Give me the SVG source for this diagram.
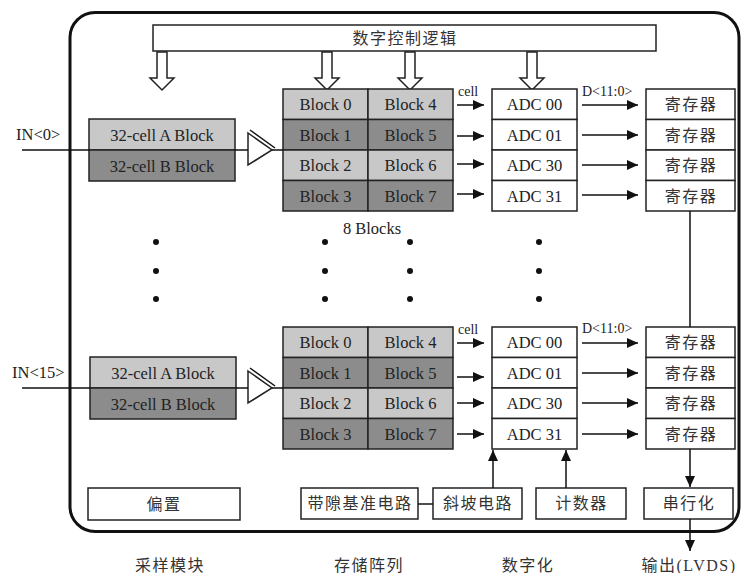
<svg xmlns="http://www.w3.org/2000/svg" width="743" height="573" viewBox="0 0 743 573">
<style>
.box{fill:#fff;stroke:#222;stroke-width:1.5}
.lt{fill:#c8c8c8;stroke:#222;stroke-width:1.5}
.dk{fill:#8c8c8c;stroke:#222;stroke-width:1.5}
.t{font-family:"Liberation Serif",serif;font-size:16.5px;fill:#222;text-anchor:middle}
.ts{font-family:"Liberation Serif",serif;font-size:14px;fill:#222}
.c{font-family:"Liberation Serif","Noto Sans CJK SC",sans-serif;font-size:16px;fill:#333;text-anchor:middle;letter-spacing:1.5px}
.ln{stroke:#111;stroke-width:1.5;fill:none}
.ar{stroke:#111;stroke-width:1.5;fill:none;marker-end:url(#ah)}
.hol{fill:#fff;stroke:#222;stroke-width:1.5}
.dot{fill:#111}
</style>
<defs>
<marker id="ah" markerUnits="userSpaceOnUse" markerWidth="11" markerHeight="10" refX="11" refY="5" orient="auto">
<path d="M0,0 L11,5 L0,10 z" fill="#111"/>
</marker>
</defs>
<rect id="frame" x="70" y="12.5" width="669" height="519" rx="25" fill="none" stroke="#111" stroke-width="3"/>
<g id="ctrl"><rect class="box" x="153" y="25" width="503" height="26"/><text class="c" x="405" y="43.5">数字控制逻辑</text></g>
<g id="hollow-arrows">
<path class="hol" d="M157,52 V78 H150 L162,90 L174,78 H167 V52 Z"/>
<path class="hol" d="M322,52 V78 H315 L327,90 L339,78 H332 V52 Z"/>
<path class="hol" d="M405,52 V78 H398 L410,90 L422,78 H415 V52 Z"/>
<path class="hol" d="M527,52 V78 H520 L532,90 L544,78 H537 V52 Z"/>
</g>
<g id="sample0">
<rect class="lt" x="89" y="119" width="146" height="31"/><text class="t" x="162" y="140.5">32-cell A Block</text>
<rect class="dk" x="89" y="150" width="146" height="31"/><text class="t" x="162" y="171.5">32-cell B Block</text>
</g>
<g id="sample15">
<rect class="lt" x="90" y="357" width="146" height="31"/><text class="t" x="163" y="378.5">32-cell A Block</text>
<rect class="dk" x="90" y="388" width="146" height="31"/><text class="t" x="163" y="409.5">32-cell B Block</text>
</g>
<g id="buf0"><polygon class="hol" points="248,133 272,150 248,165"/><line class="ln" x1="250" y1="130" x2="275" y2="148"/></g>
<g id="buf15"><polygon class="hol" points="248,371 272,388 248,403"/><line class="ln" x1="250" y1="368" x2="275" y2="386"/></g>
<g id="blocks0">
<rect class="lt" x="283" y="89" width="85" height="30.5"/><text class="t" x="325.5" y="110">Block 0</text>
<rect class="lt" x="368" y="89" width="85" height="30.5"/><text class="t" x="410.5" y="110">Block 4</text>
<rect class="dk" x="283" y="119.5" width="85" height="30.5"/><text class="t" x="325.5" y="140.5">Block 1</text>
<rect class="dk" x="368" y="119.5" width="85" height="30.5"/><text class="t" x="410.5" y="140.5">Block 5</text>
<rect class="lt" x="283" y="150" width="85" height="30.5"/><text class="t" x="325.5" y="171">Block 2</text>
<rect class="lt" x="368" y="150" width="85" height="30.5"/><text class="t" x="410.5" y="171">Block 6</text>
<rect class="dk" x="283" y="180.5" width="85" height="30.5"/><text class="t" x="325.5" y="201.5">Block 3</text>
<rect class="dk" x="368" y="180.5" width="85" height="30.5"/><text class="t" x="410.5" y="201.5">Block 7</text>
</g>
<g id="blocks15">
<rect class="lt" x="283" y="327" width="85" height="30.5"/><text class="t" x="325.5" y="348">Block 0</text>
<rect class="lt" x="368" y="327" width="85" height="30.5"/><text class="t" x="410.5" y="348">Block 4</text>
<rect class="dk" x="283" y="357.5" width="85" height="30.5"/><text class="t" x="325.5" y="378.5">Block 1</text>
<rect class="dk" x="368" y="357.5" width="85" height="30.5"/><text class="t" x="410.5" y="378.5">Block 5</text>
<rect class="lt" x="283" y="388" width="85" height="30.5"/><text class="t" x="325.5" y="409">Block 2</text>
<rect class="lt" x="368" y="388" width="85" height="30.5"/><text class="t" x="410.5" y="409">Block 6</text>
<rect class="dk" x="283" y="418.5" width="85" height="30.5"/><text class="t" x="325.5" y="439.5">Block 3</text>
<rect class="dk" x="368" y="418.5" width="85" height="30.5"/><text class="t" x="410.5" y="439.5">Block 7</text>
</g>
<g id="adc0">
<rect class="box" x="492" y="89" width="85" height="30.5"/><text class="t" x="534.5" y="110">ADC 00</text>
<rect class="box" x="492" y="119.5" width="85" height="30.5"/><text class="t" x="534.5" y="140.5">ADC 01</text>
<rect class="box" x="492" y="150" width="85" height="30.5"/><text class="t" x="534.5" y="171">ADC 30</text>
<rect class="box" x="492" y="180.5" width="85" height="30.5"/><text class="t" x="534.5" y="201.5">ADC 31</text>
</g>
<g id="adc15">
<rect class="box" x="492" y="327" width="85" height="30.5"/><text class="t" x="534.5" y="348">ADC 00</text>
<rect class="box" x="492" y="357.5" width="85" height="30.5"/><text class="t" x="534.5" y="378.5">ADC 01</text>
<rect class="box" x="492" y="388" width="85" height="30.5"/><text class="t" x="534.5" y="409">ADC 30</text>
<rect class="box" x="492" y="418.5" width="85" height="30.5"/><text class="t" x="534.5" y="439.5">ADC 31</text>
</g>
<g id="reg0">
<rect class="box" x="646" y="89" width="89" height="30.5"/><text class="c" x="691" y="110">寄存器</text>
<rect class="box" x="646" y="119.5" width="89" height="30.5"/><text class="c" x="691" y="140.5">寄存器</text>
<rect class="box" x="646" y="150" width="89" height="30.5"/><text class="c" x="691" y="171">寄存器</text>
<rect class="box" x="646" y="180.5" width="89" height="30.5"/><text class="c" x="691" y="201.5">寄存器</text>
</g>
<g id="reg15">
<rect class="box" x="646" y="327" width="89" height="30.5"/><text class="c" x="691" y="348">寄存器</text>
<rect class="box" x="646" y="357.5" width="89" height="30.5"/><text class="c" x="691" y="378.5">寄存器</text>
<rect class="box" x="646" y="388" width="89" height="30.5"/><text class="c" x="691" y="409">寄存器</text>
<rect class="box" x="646" y="418.5" width="89" height="30.5"/><text class="c" x="691" y="439.5">寄存器</text>
</g>
<g id="bias"><rect class="box" x="88" y="488" width="152" height="32"/><text class="c" x="164" y="509.5">偏置</text></g>
<g id="bandgap"><rect class="box" x="301" y="488" width="117" height="31"/><text class="c" x="360" y="509">带隙基准电路</text></g>
<g id="ramp"><rect class="box" x="433" y="488" width="89" height="31"/><text class="c" x="478" y="509">斜坡电路</text></g>
<g id="counter"><rect class="box" x="536" y="488" width="90" height="31"/><text class="c" x="581.5" y="509">计数器</text></g>
<g id="serial"><rect class="box" x="644" y="488" width="89" height="31"/><text class="c" x="689" y="509">串行化</text></g>
<g id="connectors">
<line class="ln" x1="22" y1="150" x2="89" y2="150"/>
<line class="ln" x1="235" y1="150" x2="248" y2="150"/>
<line class="ln" x1="272" y1="150" x2="283" y2="150"/>
<line class="ln" x1="22" y1="388" x2="90" y2="388"/>
<line class="ln" x1="236" y1="388" x2="248" y2="388"/>
<line class="ln" x1="272" y1="388" x2="283" y2="388"/>
<line class="ar" x1="457" y1="105" x2="484" y2="105"/>
<line class="ar" x1="457" y1="136" x2="484" y2="136"/>
<line class="ar" x1="457" y1="164" x2="484" y2="164"/>
<line class="ar" x1="457" y1="194" x2="484" y2="194"/>
<line class="ar" x1="457" y1="343" x2="484" y2="343"/>
<line class="ar" x1="457" y1="377" x2="484" y2="377"/>
<line class="ar" x1="457" y1="403" x2="484" y2="403"/>
<line class="ar" x1="457" y1="434" x2="484" y2="434"/>
<line class="ar" x1="582" y1="105" x2="638" y2="105"/>
<line class="ar" x1="582" y1="135" x2="638" y2="135"/>
<line class="ar" x1="582" y1="165" x2="638" y2="165"/>
<line class="ar" x1="582" y1="195" x2="638" y2="195"/>
<line class="ar" x1="582" y1="343" x2="638" y2="343"/>
<line class="ar" x1="582" y1="373" x2="638" y2="373"/>
<line class="ar" x1="582" y1="403" x2="638" y2="403"/>
<line class="ar" x1="582" y1="434" x2="638" y2="434"/>
<line class="ln" x1="690" y1="211" x2="690" y2="327"/>
<line class="ar" x1="690" y1="449" x2="690" y2="487"/>
<line class="ar" x1="690" y1="519" x2="690" y2="551"/>
<line class="ar" x1="493" y1="488" x2="493" y2="450"/>
<line class="ar" x1="566" y1="488" x2="566" y2="450"/>
<line class="ln" x1="418" y1="504" x2="433" y2="504"/>
</g>
<g id="labels">
<text class="t" x="16" y="140" style="text-anchor:start">IN&lt;0&gt;</text>
<text class="t" x="12" y="378" style="text-anchor:start">IN&lt;15&gt;</text>
<text class="ts" x="458" y="96">cell</text>
<text class="ts" x="458" y="334">cell</text>
<text class="ts" x="582" y="96">D&lt;11:0&gt;</text>
<text class="ts" x="582" y="333">D&lt;11:0&gt;</text>
<text class="t" x="372" y="234">8 Blocks</text>
<text class="c" x="170" y="571">采样模块</text>
<text class="c" x="369" y="571">存储阵列</text>
<text class="c" x="528" y="571">数字化</text>
<text class="c" x="689" y="571">输出(LVDS)</text>
</g>
<g id="dots">
<circle class="dot" cx="156" cy="242" r="3"/><circle class="dot" cx="156" cy="271" r="3"/><circle class="dot" cx="156" cy="299" r="3"/>
<circle class="dot" cx="325" cy="242" r="3"/><circle class="dot" cx="325" cy="271" r="3"/><circle class="dot" cx="325" cy="299" r="3"/>
<circle class="dot" cx="410" cy="242" r="3"/><circle class="dot" cx="410" cy="271" r="3"/><circle class="dot" cx="410" cy="299" r="3"/>
<circle class="dot" cx="539" cy="242" r="3"/><circle class="dot" cx="539" cy="271" r="3"/><circle class="dot" cx="539" cy="299" r="3"/>
</g>
</svg>
